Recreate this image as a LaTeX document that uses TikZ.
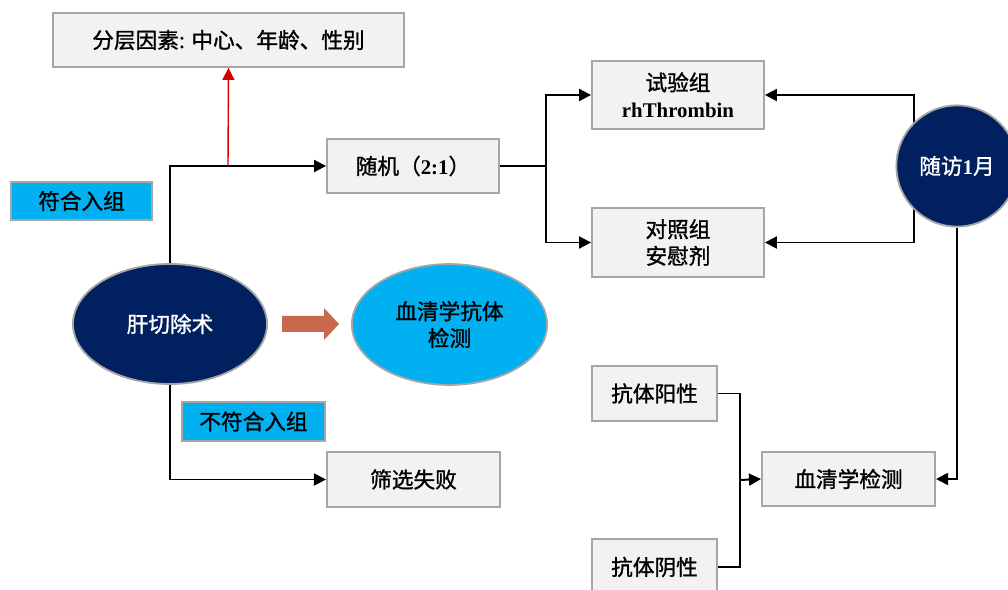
\documentclass[tikz,border=0pt]{standalone}
\usepackage{fontspec}
\setmainfont{Liberation Serif}[Scale=1.06]
\newfontfamily\cjk{Noto Sans CJK SC}[Scale=1.1, FakeBold=1.2]
\usetikzlibrary{arrows.meta,shapes.geometric}
\definecolor{navyfill}{HTML}{002060}
\definecolor{cyanfill}{HTML}{00B0F0}
\definecolor{boxfill}{HTML}{F2F2F2}
\definecolor{boxline}{HTML}{A6A6A6}
\definecolor{rustfill}{HTML}{C8694C}
\definecolor{stratred}{HTML}{D40000}

\begin{document}
\begin{tikzpicture}[x=0.025cm, y=-0.025cm,
    font=\fontsize{14pt}{19pt}\selectfont,
    greybox/.style={draw=boxline, fill=boxfill, line width=1.3pt,
      inner sep=0pt, align=center},
    cyanbox/.style={draw=boxline, fill=cyanfill, line width=1.3pt,
      inner sep=0pt, align=center},
    flow/.style={line width=1.4pt, -{Triangle[length=0.3cm, width=0.3cm]}},
    plain/.style={line width=1.4pt}]
    \useasboundingbox (0, 0) rectangle (1008, 590);

    \newcommand{\fatarw}{(282, 316) -- (324, 316) -- (324, 308)
      -- (339, 324) -- (324, 340) -- (324, 332) -- (282, 332) -- cycle}

    \node[greybox, minimum width=8.78cm, minimum height=1.35cm]
      (strat) at (228.5, 40) {\cjk 分层因素: 中心、年龄、性别};
    \node[greybox, minimum width=4.3cm, minimum height=1.35cm]
      (rand) at (413, 166) {{\cjk 随机（}\textbf{2:1}{\cjk ）}};
    \node[cyanbox, minimum width=3.53cm, minimum height=0.95cm]
      (fit) at (81.5, 201) {\cjk 符合入组};
    \node[greybox, minimum width=4.3cm, minimum height=1.7cm]
      (trial) at (678, 95) {{\cjk 试验组}\\\textbf{rhThrombin}};
    \node[greybox, minimum width=4.3cm, minimum height=1.72cm]
      (ctrl) at (678, 242.5) {\cjk 对照组\\\cjk 安慰剂};
    \node[ellipse, draw=boxline, fill=navyfill, line width=1.3pt,
      minimum width=4.85cm, minimum height=3cm, text=white, inner sep=0pt]
      (hep) at (170, 324) {\cjk 肝切除术};
    \node[ellipse, draw=boxline, fill=cyanfill, line width=1.3pt,
      minimum width=4.88cm, minimum height=3.02cm, align=center, inner sep=0pt]
      (sero) at (449.5, 324.5) {\cjk 血清学抗体\\\cjk 检测};
    \node[cyanbox, minimum width=3.58cm, minimum height=0.97cm]
      (unfit) at (253.5, 421.5) {\cjk 不符合入组};
    \node[greybox, minimum width=4.33cm, minimum height=1.38cm]
      (fail) at (413.5, 479.5) {\cjk 筛选失败};
    \node[greybox, minimum width=3.13cm, minimum height=1.38cm]
      (pos) at (654.5, 393.5) {\cjk 抗体阳性};
    \node[greybox, minimum width=3.13cm, minimum height=1.4cm]
      (neg) at (654.5, 567) {\cjk 抗体阴性};
    \node[greybox, minimum width=4.33cm, minimum height=1.35cm]
      (serum) at (848.5, 479) {\cjk 血清学检测};

    \path[fill=rustfill] \fatarw;

    \coordinate (rb) at (228, 166);
    \coordinate (sp) at (546, 166);
    \coordinate (vj) at (914, 166);
    \coordinate (mj) at (740, 480);

    \draw[flow] (hep.north) |- (rand.west);
    \draw[flow, stratred, line width=1pt] (rb) -- (strat.south);
    \draw[flow] (hep.south) |- (fail.west);
    \draw[plain] (rand.east) -- (sp);
    \draw[flow] (sp) |- (trial.west);
    \draw[flow] (sp) |- (ctrl.west);
    \draw[flow] (vj) |- (trial.east);
    \draw[flow] (vj) |- (ctrl.east);
    \draw[plain] (pos.east) -| (mj);
    \draw[plain] (neg.east) -| (mj);
    \draw[flow] (mj) -- (serum.west);

    \node[circle, draw=boxline, fill=navyfill, line width=1.3pt,
      minimum size=3.03cm, text=white, inner sep=0pt]
      (visit) at (957, 166) {{\cjk 随访}\textbf{1}{\cjk 月}};
    \draw[flow] (visit.south) |- (serum.east);
  \end{tikzpicture}
\end{document}
